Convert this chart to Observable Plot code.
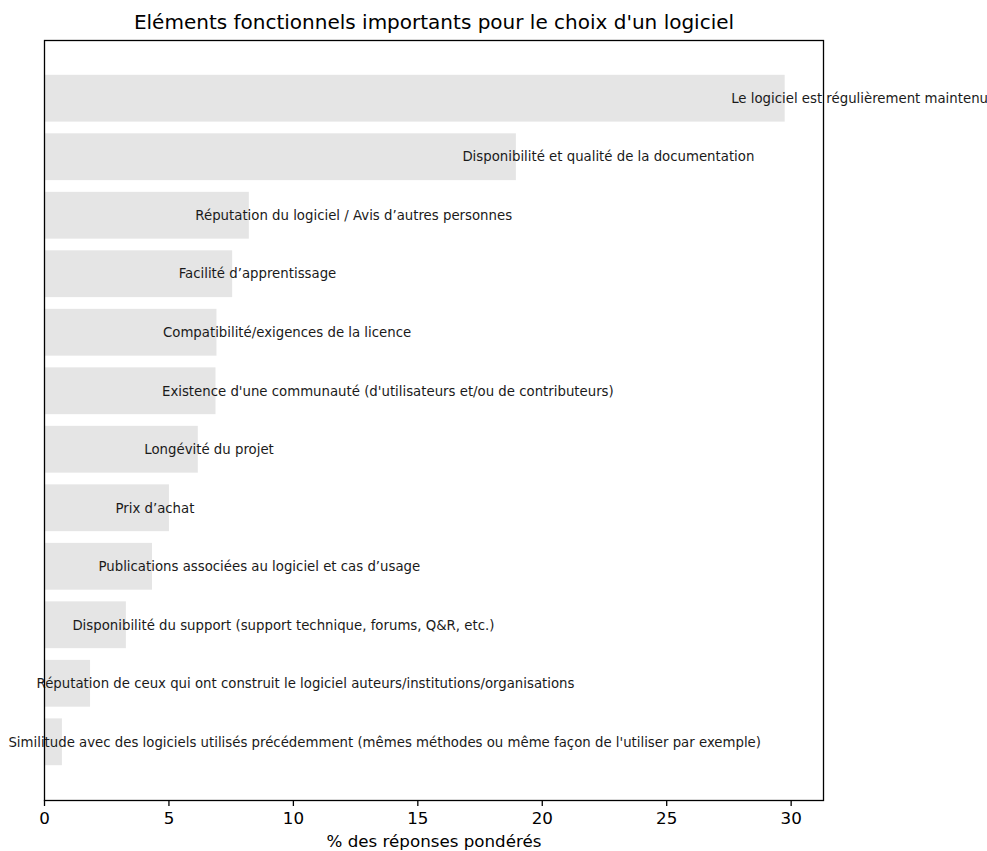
<!DOCTYPE html>
<html>
<head>
<meta charset="utf-8">
<script src="https://cdn.jsdelivr.net/npm/d3@7"></script>
<script src="https://cdn.jsdelivr.net/npm/@observablehq/plot@0.6"></script>
<style>
  body { margin: 0; background: #fff; }
  svg { font-family: "DejaVu Sans", sans-serif; }
</style>
</head>
<body>
<div id="chart"></div>
<script>
const categories = [
  "Le logiciel est régulièrement maintenu",
  "Disponibilité et qualité de la documentation",
  "Réputation du logiciel / Avis d’autres personnes",
  "Facilité d’apprentissage",
  "Compatibilité/exigences de la licence",
  "Existence d'une communauté (d'utilisateurs et/ou de contributeurs)",
  "Longévité du projet",
  "Prix d’achat",
  "Publications associées au logiciel et cas d’usage",
  "Disponibilité du support (support technique, forums, Q&R, etc.)",
  "Réputation de ceux qui ont construit le logiciel auteurs/institutions/organisations",
  "Similitude avec des logiciels utilisés précédemment (mêmes méthodes ou même façon de l'utiliser par exemple)"
];
const values = [29.76, 18.96, 8.23, 7.56, 6.93, 6.89, 6.18, 5.02, 4.34, 3.29, 1.85, 0.72];
const xTicks = [0, 5, 10, 15, 20, 25, 30];
const title = "Eléments fonctionnels importants pour le choix d'un logiciel";
const xLabel = "% des réponses pondérés";

const data = categories.map((c, i) => ({category: c, value: values[i]}));

const chart = Plot.plot({
  width: 987,
  height: 851,
  marginLeft: 44,
  marginRight: 164,
  marginTop: 40,
  marginBottom: 51,
  style: {fontFamily: "'DejaVu Sans', sans-serif", background: "#fff", color: "#000", overflow: "visible"},
  x: {domain: [0, 31.3]},
  y: {domain: categories, paddingInner: 0.2, paddingOuter: 0.595, round: false, axis: null},
  marks: [
    Plot.barX(data, {x: "value", y: "category", fill: "#e5e5e5"}),
    Plot.text(data, {x: "value", y: "category", text: "category", textAnchor: "start", dx: -54, fontSize: 13.3, fill: "#1a1a1a"}),
    Plot.frame({stroke: "#000", strokeWidth: 1.3}),
    Plot.axisX({ticks: xTicks, tickSize: 6, tickPadding: 6, fontSize: 16.7, strokeWidth: 1.3, label: null, tickFormat: d => String(d)}),
    Plot.text([title], {frameAnchor: "top", lineAnchor: "middle", dy: -18, fontSize: 20, fill: "#000"}),
    Plot.text([xLabel], {frameAnchor: "bottom", lineAnchor: "middle", dy: 41.5, fontSize: 16.7, fill: "#000"})
  ]
});
document.getElementById("chart").appendChild(chart);
</script>
</body>
</html>
